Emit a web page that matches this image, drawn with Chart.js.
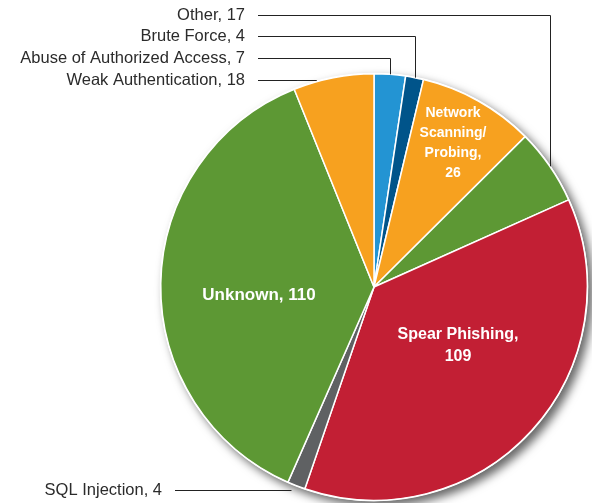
<!DOCTYPE html>
<html>
<head>
<meta charset="utf-8">
<script src="https://cdn.jsdelivr.net/npm/chart.js@4"></script>
<style>
  html, body { margin: 0; padding: 0; background: #fff; }
  #chart { display: block; }
</style>
</head>
<body>
<canvas id="chart" width="592" height="503"></canvas>
<script>
// 데이터 (12시 방향부터 시계방향)
const categories = [
  "Abuse of Authorized Access",
  "Brute Force",
  "Network Scanning/Probing",
  "Other",
  "Spear Phishing",
  "SQL Injection",
  "Unknown",
  "Weak Authentication",
];
const values = [7, 4, 26, 17, 109, 4, 110, 18];
const sliceColors = [
  "#2394d3", "#00548a", "#f7a11f", "#5d9834",
  "#c21f34", "#5f6163", "#5d9834", "#f7a11f",
];

// 바깥 라벨 (리더선 있음)
const outsideLabels = ["Other, 17", "Brute Force, 4", "Abuse of Authorized Access, 7", "Weak Authentication, 18", "SQL Injection, 4"];
const outsideIndex = [3, 1, 0, 7, 5];
const outsideY = [15, 36, 58, 80, 490];
const outsideRight = [245, 245, 245, 245, 162];
const outsideMode = ["vertical", "vertical", "vertical", "edge", "mid"];

// 안쪽 라벨
const insideLines = [["Network", "Scanning/", "Probing,", "26"], ["Spear Phishing,", "109"], ["Unknown, 110"]];
const insidePos = [[453, 113], [458, 335], [259, 295]];
const insideSize = [14, 16, 17];
const insideGap = [20, 22, 0];

const labelFont = '16.5px "Liberation Sans", Arial, sans-serif';

// 그림자 플러그인
const shadowPlugin = {
  id: "pieShadow",
  beforeDatasetsDraw(chart) {
    const arc = chart.getDatasetMeta(0).data[0];
    const ctx = chart.ctx;
    ctx.save();
    ctx.shadowColor = "rgba(0,0,0,0.6)";
    ctx.shadowBlur = 10;
    ctx.shadowOffsetX = 5;
    ctx.shadowOffsetY = 5;
    ctx.fillStyle = "#fff";
    ctx.beginPath();
    ctx.arc(arc.x, arc.y, arc.outerRadius + 1, 0, Math.PI * 2);
    ctx.fill();
    ctx.restore();
  },
};

// 라벨 + 리더선 플러그인
const labelPlugin = {
  id: "pieLabels",
  afterDatasetsDraw(chart) {
    const ctx = chart.ctx;
    const meta = chart.getDatasetMeta(0);
    ctx.save();

    // 바깥 라벨
    ctx.font = labelFont;
    ctx.fillStyle = "#2b2b2b";
    ctx.textAlign = "right";
    ctx.textBaseline = "middle";
    ctx.strokeStyle = "#222";
    ctx.lineWidth = 1;
    outsideLabels.forEach((txt, k) => {
      const arc = meta.data[outsideIndex[k]];
      const y = outsideY[k];
      ctx.fillText(txt, outsideRight[k], y);
      const mid = (arc.startAngle + arc.endAngle) / 2;
      const r = arc.outerRadius;
      const px = Math.round(arc.x + r * Math.cos(mid)) + 0.5;
      const py = arc.y + r * Math.sin(mid);
      ctx.beginPath();
      ctx.moveTo(outsideRight[k] + 13, y + 0.5);
      if (outsideMode[k] === "vertical") {
        ctx.lineTo(px, y + 0.5);
        ctx.lineTo(px, py);
      } else if (outsideMode[k] === "mid") {
        ctx.lineTo(px - 5, y + 0.5);
      } else {
        const dy = y - arc.y;
        const ex = arc.x - Math.sqrt(Math.max(0, r * r - dy * dy));
        ctx.lineTo(ex - 6, y + 0.5);
      }
      ctx.stroke();
    });

    // 안쪽 라벨
    ctx.fillStyle = "#fff";
    ctx.textAlign = "center";
    insideLines.forEach((lines, k) => {
      ctx.font = 'bold ' + insideSize[k] + 'px "Liberation Sans", Arial, sans-serif';
      lines.forEach((line, j) => {
        ctx.fillText(line, insidePos[k][0], insidePos[k][1] + j * insideGap[k]);
      });
    });
    ctx.restore();
  },
};

new Chart(document.getElementById("chart"), {
  type: "pie",
  data: {
    labels: categories,
    datasets: [{
      data: values,
      backgroundColor: sliceColors,
      borderColor: "#fff",
      borderWidth: 1.5,
    }],
  },
  options: {
    responsive: false,
    animation: false,
    layout: { padding: { left: 160, right: 4, top: 73, bottom: 2 } },
    plugins: {
      legend: { display: false },
      tooltip: { enabled: false },
    },
  },
  plugins: [shadowPlugin, labelPlugin],
});
</script>
</body>
</html>
